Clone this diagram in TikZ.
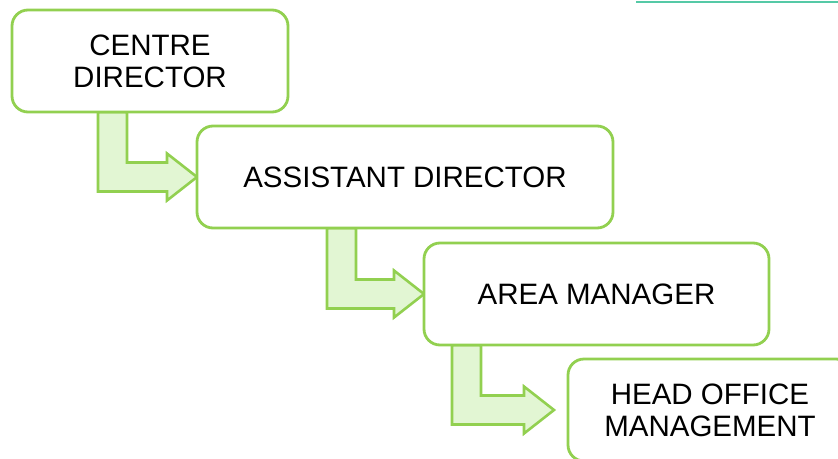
\documentclass[tikz,border=0pt]{standalone}
\usepackage{fontspec}
\setmainfont{Liberation Sans}
\usetikzlibrary{calc,backgrounds}
\definecolor{boxgreen}{HTML}{92D050}
\definecolor{arrfill}{HTML}{E2F6D3}
\definecolor{topteal}{HTML}{55C9A6}
\newcommand\bentarr[4]{%
  \draw[arr] let \p1=(#1.south), \p2=(#2.west) in
    (#3pt,\y1) -- (#3pt+29pt,\y1) -- (#3pt+29pt,\y2+14.5pt)
    -- (\x2-#4pt-30pt,\y2+14.5pt) -- (\x2-#4pt-30pt,\y2+23.5pt)
    -- (\x2-#4pt,\y2)
    -- (\x2-#4pt-30pt,\y2-23.5pt) -- (\x2-#4pt-30pt,\y2-14.5pt)
    -- (#3pt,\y2-14.5pt) -- cycle;}
\begin{document}
\begin{tikzpicture}[x=1pt,y=-1pt,
  box/.style={draw=boxgreen, line width=2.8pt, fill=white, rounded corners=16pt,
    minimum height=102pt, outer sep=0pt, inner sep=0pt, align=center,
    font=\fontsize{29.5}{32}\selectfont},
  arr/.style={draw=boxgreen, line width=2.6pt, fill=arrfill, line join=miter}]
\useasboundingbox (0,0) rectangle (838,458);
\clip (0,0) rectangle (838,458);
\fill[topteal] (636,0.5) rectangle (838,2.7);
\path (150,61) node[box, minimum width=276pt] (cd) {CENTRE\\DIRECTOR};
\path (405,177) node[box, minimum width=416pt] (ad) {ASSISTANT DIRECTOR};
\path (596.5,294) node[box, minimum width=345pt] (am) {AREA MANAGER};
\path (710,410) node[box, minimum width=284pt] (ho) {HEAD OFFICE\\MANAGEMENT};
\begin{scope}[on background layer]
\bentarr{cd}{ad}{98}{0}
\bentarr{ad}{am}{327}{0}
\bentarr{am}{ho}{452}{14}
\end{scope}
\end{tikzpicture}
\end{document}
